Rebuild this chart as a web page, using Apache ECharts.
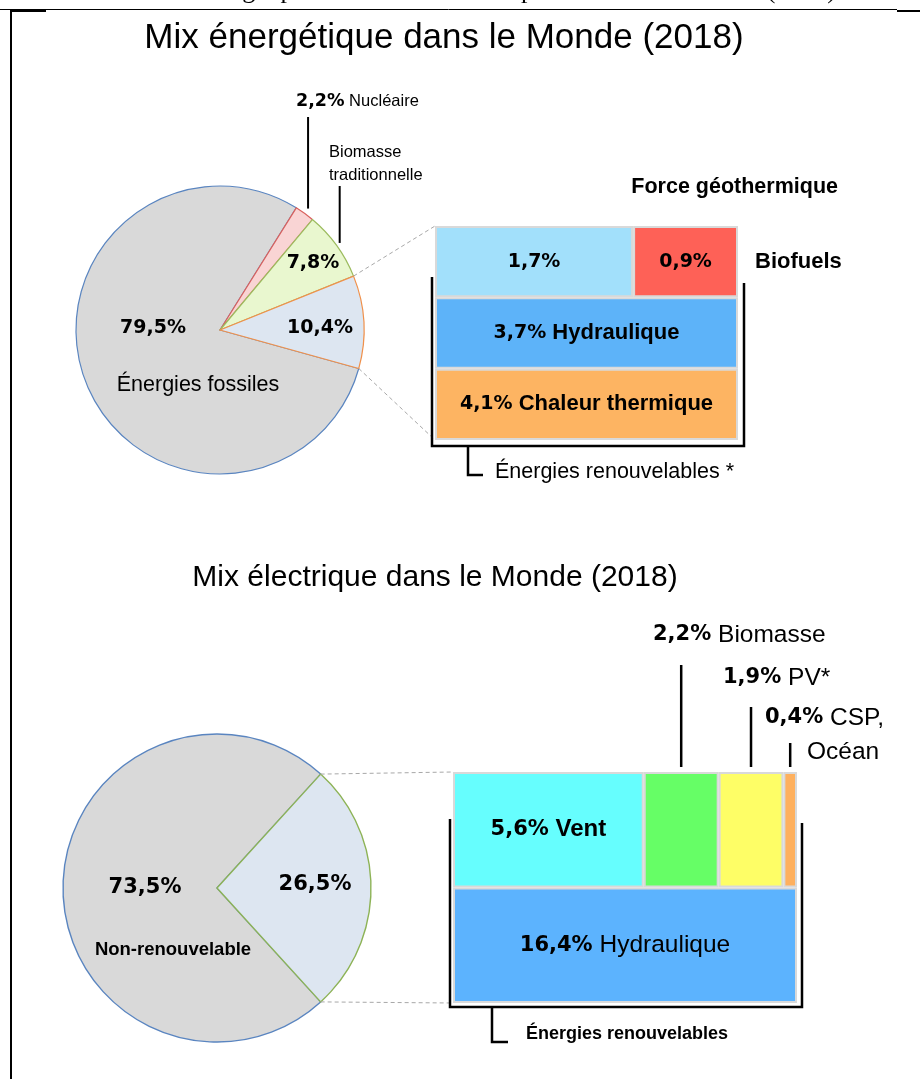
<!DOCTYPE html>
<html>
<head>
<meta charset="utf-8">
<script src="https://cdn.jsdelivr.net/npm/echarts@6/dist/echarts.min.js"></script>
<style>
  html, body { margin: 0; padding: 0; background: #fff; }
  #chart { width: 920px; height: 1079px; }
</style>
</head>
<body>
<div id="chart"></div>
<script>
// Mix énergétique (pie, fossil first so the small slices are drawn on top)
const energyNames = ["Énergies fossiles", "Nucléaire", "Biomasse traditionnelle", "Énergies renouvelables"];
const energyShares = [79.5, 2.2, 7.8, 10.4];
// renewable detail box (rows from top)
const renewTopNames = ["Force géothermique", "Biofuels"];
const renewTopValues = [1.7, 0.9];
const renewHydro = 3.7;
const renewHeat = 4.1;

// Mix électrique
const elecNames = ["Non-renouvelable", "Renouvelable"];
const elecShares = [73.5, 26.5];
const elecTopNames = ["Vent", "Biomasse", "PV*", "CSP, Océan"];
const elecTopValues = [5.6, 2.2, 1.9, 0.4];
const elecHydro = 16.4;

const fmt = (v) => v.toFixed(1).replace(".", ",") + "%";
const sum = (a) => a.reduce((s, v) => s + v, 0);

// layout
const pie1 = { cx: 220, cy: 330, r: 144, start: 344.5 };
// renewable slice centred on the horizontal, pie starts at its lower edge
const pie2 = { cx: 217, cy: 888, r: 154, start: 360 - (elecShares[1] * 3.6) / 2 };
const box1 = { x: 435, y: 226, w: 303, h: 214 };
const box2 = { x: 453, y: 772, w: 344, h: 231 };

const PCT = '"DejaVu Sans", Verdana, sans-serif';
const SANS = '"Liberation Sans", Arial, sans-serif';

// angle (deg, ccw) at cumulative share
function pieAngle(p, shares, upto) {
  const total = sum(shares);
  return p.start - (sum(shares.slice(0, upto)) / total) * 360;
}
function polar(p, angle, r) {
  const a = (angle * Math.PI) / 180;
  return [p.cx + r * Math.cos(a), p.cy - r * Math.sin(a)];
}

const chartDom = document.getElementById("chart");
const myChart = echarts.init(chartDom);

const pieColors1 = [
  { color: "#d9d9d9", borderColor: "#5a85c0" },
  { color: "#f9d4d4", borderColor: "#d9605c" },
  { color: "#e9f7cf", borderColor: "#9cbc5e" },
  { color: "#dde6f1", borderColor: "#f0904a" },
];
const pieColors2 = [
  { color: "#d9d9d9", borderColor: "#5a85c0" },
  { color: "#dde6f1", borderColor: "#8db356" },
];

const richPct = (size) => ({ fontFamily: PCT, fontWeight: "bold", fontSize: size, color: "#000" });

// one stacked bar cell of a box
function cell(grid, rows, rowIdx, share, color, text, rich) {
  const data = [];
  for (let i = 0; i < rows; i++) data.push(i === rowIdx ? share : "-");
  return {
    type: "bar",
    xAxisIndex: grid,
    yAxisIndex: grid,
    stack: "box" + grid,
    barCategoryGap: "0%",
    silent: true,
    data: data,
    itemStyle: { color: color, borderColor: "#d9d9d9", borderWidth: 2 },
    label: {
      show: !!text,
      position: "inside",
      formatter: text || "",
      rich: rich,
    },
  };
}

const rich1 = { p: richPct(19), n: { fontFamily: SANS, fontWeight: "bold", fontSize: 22, color: "#000" } };
const rich2 = {
  p: richPct(21),
  n: { fontFamily: SANS, fontWeight: "bold", fontSize: 24, color: "#000" },
  r: { fontFamily: SANS, fontSize: 24.5, color: "#000" },
};

const topTotal1 = sum(renewTopValues);
const topTotal2 = sum(elecTopValues);

const series = [
  {
    type: "pie",
    center: [pie1.cx, pie1.cy],
    radius: pie1.r,
    startAngle: pie1.start,
    clockwise: true,
    silent: true,
    label: { show: false },
    labelLine: { show: false },
    data: energyNames.map((n, i) => ({
      name: n,
      value: energyShares[i],
      itemStyle: Object.assign({ borderWidth: 1.2 }, pieColors1[i]),
    })),
  },
  {
    type: "pie",
    center: [pie2.cx, pie2.cy],
    radius: pie2.r,
    startAngle: pie2.start,
    clockwise: true,
    silent: true,
    label: { show: false },
    labelLine: { show: false },
    data: elecNames.map((n, i) => ({
      name: n,
      value: elecShares[i],
      itemStyle: Object.assign({ borderWidth: 1.4 }, pieColors2[i]),
    })),
  },
  cell(0, 3, 0, renewTopValues[0] / topTotal1, "#a2e0fb", "{p|" + fmt(renewTopValues[0]) + "}", rich1),
  cell(0, 3, 0, renewTopValues[1] / topTotal1, "#fe6157", "{p|" + fmt(renewTopValues[1]) + "}", rich1),
  cell(0, 3, 1, 1, "#5db3f9", "{p|" + fmt(renewHydro) + "}{n| Hydraulique}", rich1),
  cell(0, 3, 2, 1, "#fdb462", "{p|" + fmt(renewHeat) + "}{n| Chaleur thermique}", rich1),
  cell(1, 2, 0, elecTopValues[0] / topTotal2, "#66fefe", "{p|" + fmt(elecTopValues[0]) + "}{n| " + elecTopNames[0] + "}", rich2),
  cell(1, 2, 0, elecTopValues[1] / topTotal2, "#66fe66", null, rich2),
  cell(1, 2, 0, elecTopValues[2] / topTotal2, "#fefe66", null, rich2),
  cell(1, 2, 0, elecTopValues[3] / topTotal2, "#feb05e", null, rich2),
  cell(1, 2, 1, 1, "#5cb3fe", "{p|" + fmt(elecHydro) + "}{r| Hydraulique}", rich2),
];

const option = {
  backgroundColor: "#fff",
  animation: false,
  grid: [
    { left: box1.x, top: box1.y, width: box1.w, height: box1.h },
    { left: box2.x, top: box2.y, width: box2.w, height: box2.h },
  ],
  xAxis: [
    { type: "value", gridIndex: 0, min: 0, max: 1, show: false },
    { type: "value", gridIndex: 1, min: 0, max: 1, show: false },
  ],
  yAxis: [
    { type: "category", gridIndex: 0, inverse: true, data: ["r1", "r2", "r3"], show: false },
    { type: "category", gridIndex: 1, inverse: true, data: ["r1", "r2"], show: false },
  ],
  series: series,
};
myChart.setOption(option);

// ---- annotations ----
function txt(x, y, text, font, align, extra) {
  return {
    type: "text",
    x: x,
    y: y,
    silent: true,
    z: 100,
    style: Object.assign({ text: text, font: font, fill: "#000", textAlign: align || "center", textVerticalAlign: "middle" }, extra || {}),
  };
}
function line(x1, y1, x2, y2, w, color, dash) {
  return {
    type: "line",
    silent: true,
    z: 90,
    shape: { x1: x1, y1: y1, x2: x2, y2: y2 },
    style: { stroke: color || "#000", lineWidth: w || 2, lineDash: dash || null },
  };
}
function poly(points, w) {
  return { type: "polyline", silent: true, z: 90, shape: { points: points }, style: { stroke: "#000", lineWidth: w || 2.5, fill: null } };
}

const g = [];
// frame and cut-off caption above
g.push(txt(836, 4, "Mix de l'énergie primaire totale et de la production d'électricité (2018)", '26px "Liberation Serif", serif', "right", { textVerticalAlign: "bottom" }));
g.push(line(0, 9.5, 897, 9.5, 1));
g.push(line(11, 11, 46, 11, 2));
g.push(line(897, 11, 920, 11, 2));
g.push(line(11, 10, 11, 1079, 2));

// titles
g.push(txt(444, 38, "Mix énergétique dans le Monde (2018)", "35px " + SANS));
g.push(txt(435, 578, "Mix électrique dans le Monde (2018)", "30px " + SANS));

// pie 1 labels
g.push(txt(153, 328, fmt(energyShares[0]), "bold 19px " + PCT));
g.push(txt(198, 385, "Énergies fossiles", "21.5px " + SANS));
g.push(txt(313, 263, fmt(energyShares[2]), "bold 19px " + PCT));
g.push(txt(320, 328, fmt(energyShares[3]), "bold 19px " + PCT));
g.push(txt(296, 101, "{b|" + fmt(energyShares[1]) + "}{n| " + energyNames[1] + "}", "16px " + SANS, "left", {
  rich: { b: { fontFamily: PCT, fontWeight: "bold", fontSize: 17.5 }, n: { fontFamily: SANS, fontSize: 16.5 } },
}));
g.push(txt(329, 152, "Biomasse", "16.5px " + SANS, "left"));
g.push(txt(329, 175, "traditionnelle", "16.5px " + SANS, "left"));

// leader lines from slice middles
const nucMid = (pieAngle(pie1, energyShares, 1) + pieAngle(pie1, energyShares, 2)) / 2;
const bioMid = (pieAngle(pie1, energyShares, 2) + pieAngle(pie1, energyShares, 3)) / 2;
const nucPt = polar(pie1, nucMid, pie1.r + 6);
const bioPt = polar(pie1, bioMid, pie1.r + 4);
g.push(line(nucPt[0], 117, nucPt[0], nucPt[1], 2));
g.push(line(bioPt[0], 186, bioPt[0], bioPt[1], 2));

// dashed zoom lines, pie 1 -> box 1
const rTop = polar(pie1, pieAngle(pie1, energyShares, 3), pie1.r);
const rBot = polar(pie1, pieAngle(pie1, energyShares, 4), pie1.r);
g.push(line(rTop[0], rTop[1], box1.x, box1.y, 1, "#a8a8a8", [4, 3]));
g.push(line(rBot[0], rBot[1], box1.x, box1.y + box1.h, 1, "#a8a8a8", [4, 3]));

// box 1 outer labels and bracket
g.push(txt(838, 187, renewTopNames[0], "bold 21.5px " + SANS, "right"));
g.push(txt(755, 262, renewTopNames[1], "bold 22px " + SANS, "left"));
g.push(poly([[432, 277], [432, 446], [744, 446], [744, 283]]));
g.push(poly([[468, 446], [468, 475], [483, 475]]));
g.push(txt(495, 472, "Énergies renouvelables *", "21.5px " + SANS, "left"));

// pie 2 labels
g.push(txt(145, 888, fmt(elecShares[0]), "bold 21px " + PCT));
g.push(txt(315, 885, fmt(elecShares[1]), "bold 21px " + PCT));
g.push(txt(173, 950, elecNames[0], "bold 18.5px " + SANS));

// dashed zoom lines, pie 2 -> box 2
const eTop = polar(pie2, pieAngle(pie2, elecShares, 1), pie2.r);
const eBot = polar(pie2, pieAngle(pie2, elecShares, 2), pie2.r);
g.push(line(eTop[0], eTop[1], box2.x, box2.y, 1, "#a8a8a8", [4, 3]));
g.push(line(eBot[0], eBot[1], box2.x, box2.y + box2.h, 1, "#a8a8a8", [4, 3]));

// box 2 annotations above small cells
const richTop = { b: { fontFamily: PCT, fontWeight: "bold", fontSize: 21 }, n: { fontFamily: SANS, fontSize: 24.5 } };
const annY = [635, 678, 718];
const annX = [653, 723, 765];
const lineTop = [665, 707, 743];
let cum = elecTopValues[0] / topTotal2;
for (let i = 1; i < elecTopValues.length; i++) {
  const share = elecTopValues[i] / topTotal2;
  const cx = myChart.convertToPixel({ xAxisIndex: 1 }, cum + share / 2);
  cum += share;
  const name = i === 3 ? "CSP," : elecTopNames[i];
  g.push(txt(annX[i - 1], annY[i - 1], "{b|" + fmt(elecTopValues[i]) + "}{n| " + name + "}", "24px " + SANS, "left", { rich: richTop }));
  g.push(line(cx, lineTop[i - 1], cx, box2.y - 5, 2.5));
}
g.push(txt(807, 752, "Océan", "24.5px " + SANS, "left"));

// box 2 bracket
g.push(poly([[450, 819], [450, 1007], [802, 1007], [802, 823]]));
g.push(poly([[492, 1007], [492, 1042], [508, 1042]]));
g.push(txt(526, 1034, "Énergies renouvelables", "bold 18px " + SANS, "left"));

myChart.setOption({ graphic: g });
</script>
</body>
</html>
